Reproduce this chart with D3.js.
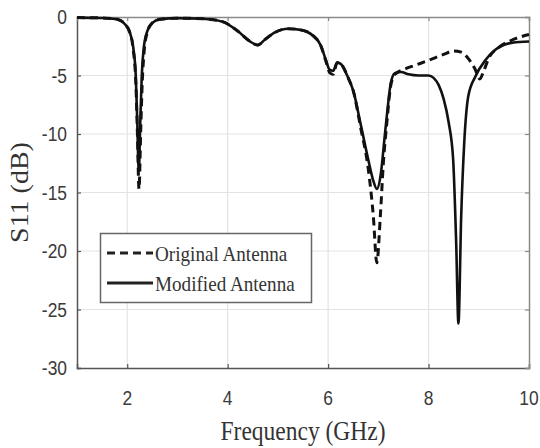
<!DOCTYPE html>
<html>
<head>
<meta charset="utf-8">
<script src="https://cdn.jsdelivr.net/npm/d3@7"></script>
<style>
  html, body { margin: 0; padding: 0; background: #fff; }
  svg { display: block; }
</style>
</head>
<body>
<div id="chart"></div>
<script>
// global variables
var width = 540,
    height = 448;
var margin = {left: 77, top: 17, right: 11, bottom: 80};
var squeeze = 0.87;   // the picture is a bit narrow, text looks condensed

// data
var xTicks = [2, 4, 6, 8, 10];
var yTicks = [0, -5, -10, -15, -20, -25, -30];
var seriesNames = ['Original Antenna', 'Modified Antenna'];

var freqOrig = [1.0, 1.5, 1.8, 1.95, 2.05, 2.12, 2.17, 2.2, 2.235, 2.27, 2.3, 2.34, 2.4, 2.5, 2.65,
                3.0, 3.5, 3.9, 4.2, 4.45, 4.6, 4.75, 4.95, 5.2, 5.45, 5.7, 5.85, 5.95, 6.04,
                6.1, 6.18, 6.25, 6.4, 6.5, 6.65, 6.8, 6.9, 6.97, 7.04, 7.1, 7.17, 7.25, 7.33,
                7.5, 7.75, 8.0, 8.3, 8.5, 8.65, 8.8, 8.92, 9.02, 9.1, 9.2, 9.4, 9.7, 10.0];
var s11Orig = [-0.05, -0.08, -0.2, -0.6, -1.3, -2.8, -5.5, -9.5, -14.7, -9.5, -5.5, -2.8, -1.3, -0.5, -0.2,
               -0.1, -0.15, -0.4, -1.2, -2.1, -2.4, -1.9, -1.3, -1.0, -1.1, -1.6, -2.4, -3.7, -4.8,
               -4.9, -3.9, -4.0, -5.2, -6.3, -9.5, -13.0, -17.0, -21.0, -17.0, -12.5, -9.0, -5.8, -4.9,
               -4.5, -4.1, -3.7, -3.2, -2.9, -3.0, -3.6, -4.4, -5.3, -4.6, -3.5, -2.6, -1.9, -1.5];

var freqMod = [1.0, 1.5, 1.8, 1.95, 2.05, 2.12, 2.17, 2.2, 2.23, 2.26, 2.29, 2.33, 2.4, 2.5, 2.65,
               3.0, 3.5, 3.9, 4.2, 4.45, 4.6, 4.75, 4.95, 5.2, 5.45, 5.7, 5.85, 5.95, 6.03,
               6.1, 6.18, 6.25, 6.4, 6.5, 6.65, 6.8, 6.9, 6.97, 7.05, 7.12, 7.18, 7.25, 7.33,
               7.45, 7.6, 7.8, 8.0, 8.1, 8.2, 8.3, 8.4, 8.49, 8.55, 8.595, 8.65, 8.71, 8.79,
               8.93, 9.13, 9.33, 9.67, 10.0];
var s11Mod = [-0.05, -0.08, -0.2, -0.6, -1.3, -2.6, -5.0, -9.0, -13.2, -9.0, -5.0, -2.6, -1.2, -0.5, -0.2,
              -0.1, -0.15, -0.4, -1.2, -2.1, -2.4, -1.9, -1.3, -1.0, -1.1, -1.6, -2.4, -3.6, -4.5,
              -4.6, -3.9, -4.0, -5.2, -6.3, -9.2, -12.2, -14.0, -14.7, -13.4, -10.5, -8.0, -5.6, -4.8,
              -4.7, -4.9, -5.0, -5.0, -5.2, -5.8, -7.0, -9.0, -12.2, -19.3, -26.2, -17.0, -10.8, -6.8,
              -5.1, -3.7, -2.8, -2.2, -2.1];

var dataOrig = freqOrig.map(function(f, i){ return {f: f, s: s11Orig[i]}; });
var dataMod = freqMod.map(function(f, i){ return {f: f, s: s11Mod[i]}; });

// create svg figure
var svg = d3.select('#chart').append('svg')
    .attr('width', width)
    .attr('height', height);

var pw = width - margin.left - margin.right,
    ph = height - margin.top - margin.bottom;

var x = d3.scaleLinear().domain([1, 10]).range([margin.left, margin.left + pw]);
var y = d3.scaleLinear().domain([-30, 0]).range([margin.top + ph, margin.top]);

// grid
svg.append('g').selectAll('line')
    .data(xTicks.filter(function(d){ return d < 10; }))
  .enter().append('line')
    .attr('x1', function(d){ return x(d); })
    .attr('x2', function(d){ return x(d); })
    .attr('y1', margin.top)
    .attr('y2', margin.top + ph)
    .style('stroke', '#e3e3e3')
    .style('stroke-width', 1.2);

svg.append('g').selectAll('line')
    .data(yTicks.filter(function(d){ return d > -30 && d < 0; }))
  .enter().append('line')
    .attr('x1', margin.left)
    .attr('x2', margin.left + pw)
    .attr('y1', function(d){ return y(d); })
    .attr('y2', function(d){ return y(d); })
    .style('stroke', '#e3e3e3')
    .style('stroke-width', 1.2);

// axes (inward ticks like matlab)
var xAxis = d3.axisBottom(x).tickValues(xTicks).tickSize(-4).tickFormat('');
var yAxis = d3.axisLeft(y).tickValues(yTicks).tickSize(-4).tickFormat('');
var xAxisTop = d3.axisTop(x).tickValues(xTicks).tickSize(-4).tickFormat('');
var yAxisRight = d3.axisRight(y).tickValues(yTicks).tickSize(-4).tickFormat('');

function styleAxis(g, col){
    g.selectAll('path').style('stroke', col).style('stroke-width', 1.5);
    g.selectAll('line').style('stroke', col).style('stroke-width', 1.2);
}

svg.append('g').attr('transform', 'translate(0,' + (margin.top + ph) + ')').call(xAxis).call(styleAxis, '#555');
svg.append('g').attr('transform', 'translate(' + margin.left + ',0)').call(yAxis).call(styleAxis, '#555');
svg.append('g').attr('transform', 'translate(0,' + margin.top + ')').call(xAxisTop).call(styleAxis, '#8a8a8a');
svg.append('g').attr('transform', 'translate(' + (margin.left + pw) + ',0)').call(yAxisRight).call(styleAxis, '#8a8a8a');

// tick labels
svg.append('g').selectAll('text')
    .data(xTicks)
  .enter().append('text')
    .attr('transform', function(d){ return 'translate(' + x(d) + ',405) scale(' + squeeze + ',1)'; })
    .attr('text-anchor', 'middle')
    .style('font-family', 'Liberation Sans, Arial, sans-serif')
    .style('font-size', '20px')
    .style('fill', '#3a3a3a')
    .text(function(d){ return d; });

svg.append('g').selectAll('text')
    .data(yTicks)
  .enter().append('text')
    .attr('transform', function(d){ return 'translate(67,' + (y(d) + 7) + ') scale(' + squeeze + ',1)'; })
    .attr('text-anchor', 'end')
    .style('font-family', 'Liberation Sans, Arial, sans-serif')
    .style('font-size', '20px')
    .style('fill', '#3a3a3a')
    .text(function(d){ return d; });

// axis titles
svg.append('text')
    .attr('transform', 'translate(' + (margin.left + pw / 2) + ',440) scale(' + squeeze + ',1)')
    .attr('text-anchor', 'middle')
    .style('font-family', 'Liberation Serif, Times New Roman, serif')
    .style('font-size', '27px')
    .style('fill', '#333')
    .text('Frequency (GHz)');

svg.append('text')
    .attr('transform', 'translate(28,' + (margin.top + ph / 2) + ') scale(' + squeeze + ',1) rotate(-90)')
    .attr('text-anchor', 'middle')
    .style('font-family', 'Liberation Serif, Times New Roman, serif')
    .style('font-size', '28px')
    .style('fill', '#333')
    .text('S11 (dB)');

// curves
var line = d3.line()
    .x(function(d){ return x(d.f); })
    .y(function(d){ return y(d.s); })
    .curve(d3.curveMonotoneX);

svg.append('path')
    .datum(dataMod)
    .attr('d', line)
    .style('fill', 'none')
    .style('stroke', '#111')
    .style('stroke-width', 2.6);

svg.append('path')
    .datum(dataOrig)
    .attr('d', line)
    .style('fill', 'none')
    .style('stroke', '#111')
    .style('stroke-width', 3)
    .style('stroke-dasharray', '8,5');

// legend
var legend = svg.append('g');
legend.append('rect')
    .attr('x', 100.5)
    .attr('y', 233.5)
    .attr('width', 211)
    .attr('height', 69)
    .style('fill', '#fff')
    .style('stroke', '#666')
    .style('stroke-width', 1.5);

var legY = [253, 283];
legend.selectAll('line')
    .data(seriesNames)
  .enter().append('line')
    .attr('x1', 107)
    .attr('x2', 153)
    .attr('y1', function(d, i){ return legY[i]; })
    .attr('y2', function(d, i){ return legY[i]; })
    .style('stroke', '#222')
    .style('stroke-width', 3)
    .style('stroke-dasharray', function(d, i){ return i == 0 ? '8,5' : null; });

legend.selectAll('text')
    .data(seriesNames)
  .enter().append('text')
    .attr('transform', function(d, i){ return 'translate(155,' + (legY[i] + 8) + ') scale(' + squeeze + ',1)'; })
    .style('font-family', 'Liberation Serif, Times New Roman, serif')
    .style('font-size', '22px')
    .style('fill', '#333')
    .text(function(d){ return d; });
</script>
</body>
</html>
